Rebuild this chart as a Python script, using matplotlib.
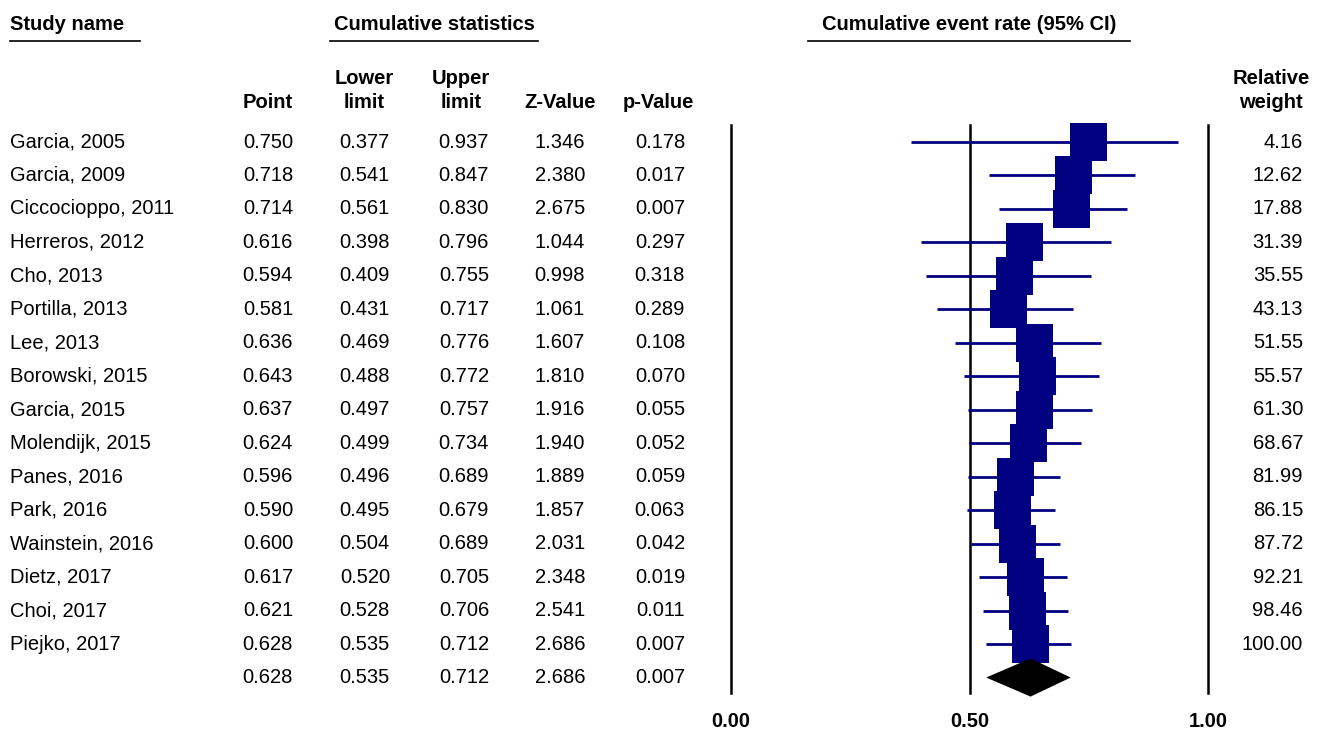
import matplotlib
matplotlib.use("Agg")
import matplotlib.pyplot as plt
from matplotlib.patches import Rectangle, Polygon
from matplotlib.lines import Line2D
import matplotlib.transforms as mtransforms

# cumulative meta-analysis table
studies = ["Garcia, 2005", "Garcia, 2009", "Ciccocioppo, 2011", "Herreros, 2012", "Cho, 2013",
           "Portilla, 2013", "Lee, 2013", "Borowski, 2015", "Garcia, 2015", "Molendijk, 2015",
           "Panes, 2016", "Park, 2016", "Wainstein, 2016", "Dietz, 2017", "Choi, 2017", "Piejko, 2017"]
point = [0.750, 0.718, 0.714, 0.616, 0.594, 0.581, 0.636, 0.643, 0.637, 0.624,
         0.596, 0.590, 0.600, 0.617, 0.621, 0.628]
lower = [0.377, 0.541, 0.561, 0.398, 0.409, 0.431, 0.469, 0.488, 0.497, 0.499,
         0.496, 0.495, 0.504, 0.520, 0.528, 0.535]
upper = [0.937, 0.847, 0.830, 0.796, 0.755, 0.717, 0.776, 0.772, 0.757, 0.734,
         0.689, 0.679, 0.689, 0.705, 0.706, 0.712]
zval = [1.346, 2.380, 2.675, 1.044, 0.998, 1.061, 1.607, 1.810, 1.916, 1.940,
        1.889, 1.857, 2.031, 2.348, 2.541, 2.686]
pval = [0.178, 0.017, 0.007, 0.297, 0.318, 0.289, 0.108, 0.070, 0.055, 0.052,
        0.059, 0.063, 0.042, 0.019, 0.011, 0.007]
weight = [4.16, 12.62, 17.88, 31.39, 35.55, 43.13, 51.55, 55.57, 61.30, 68.67,
          81.99, 86.15, 87.72, 92.21, 98.46, 100.00]
summary = {"point": 0.628, "lower": 0.535, "upper": 0.712, "z": 2.686, "p": 0.007}
xticks = [0.0, 0.5, 1.0]

W, H = 1324, 731
NAVY = "#000080"
FS = 14.5
plt.rcParams["font.family"] = ["Liberation Sans", "DejaVu Sans"]

fig = plt.figure(figsize=(W / 100, H / 100), dpi=100)
fx = lambda px: px / W
fy = lambda py: 1 - py / H

# forest axes: 0.00 at x=731px, 1.00 at 1208px; rows 33.47px apart starting at 142px
top, bot, rowh = 125, 693, 33.47
ax = fig.add_axes([fx(731), fy(bot), (1208 - 731) / W, (bot - top) / H])
ax.set_xlim(0, 1)
ax.set_ylim((bot - 142) / rowh, -(142 - top) / rowh)
for s in ax.spines.values():
    s.set_visible(False)
ax.set_yticks([])
ax.set_xticks(xticks)
ax.set_xticklabels([f"{t:.2f}" for t in xticks], fontweight="bold", fontsize=FS)
ax.tick_params(axis="x", length=0, pad=14)
for t in xticks:
    ax.axvline(t, color="black", lw=1.8, zorder=1, clip_on=False)

n = len(studies)
sq_w = 37 / 477          # square width in data units
sq_h = 38 / rowh         # square height in row units
for i in range(n):
    ax.plot([lower[i], upper[i]], [i, i], color=NAVY, lw=2, zorder=2, solid_capstyle="butt")
    ax.add_patch(Rectangle((point[i] - sq_w / 2, i - sq_h / 2), sq_w, sq_h,
                           facecolor=NAVY, edgecolor="none", zorder=3, clip_on=False))
dh = 0.57
ax.add_patch(Polygon([(summary["lower"], n), (summary["point"], n - dh),
                      (summary["upper"], n), (summary["point"], n + dh)],
                     closed=True, facecolor="black", edgecolor="none", zorder=3, clip_on=False))

# table text: x in figure fraction, y in row units
tr = mtransforms.blended_transform_factory(fig.transFigure, ax.transData)
cols = [(293, point, "{:.3f}"), (390, lower, "{:.3f}"), (489, upper, "{:.3f}"),
        (585, zval, "{:.3f}"), (685, pval, "{:.3f}")]
for i in range(n):
    fig.text(fx(10), i, studies[i], transform=tr, ha="left", va="center", fontsize=FS)
    for xr, vals, f in cols:
        fig.text(fx(xr), i, f.format(vals[i]), transform=tr, ha="right", va="center", fontsize=FS)
    fig.text(fx(1303), i, f"{weight[i]:.2f}", transform=tr, ha="right", va="center", fontsize=FS)
for xr, key in zip([293, 390, 489, 585, 685], ["point", "lower", "upper", "z", "p"]):
    fig.text(fx(xr), n, f"{summary[key]:.3f}", transform=tr, ha="right", va="center", fontsize=FS)

# headers
bold = dict(fontweight="bold", fontsize=FS, va="center")
fig.text(fx(10), fy(24), "Study name", ha="left", **bold)
fig.text(fx(434), fy(24), "Cumulative statistics", ha="center", **bold)
fig.text(fx(969), fy(24), "Cumulative event rate (95% CI)", ha="center", **bold)
for x0, x1 in [(10, 140), (330, 538), (808, 1130)]:
    fig.add_artist(Line2D([fx(x0), fx(x1)], [fy(41), fy(41)], color="black", lw=1.2))

fig.text(fx(293), fy(103), "Point", ha="right", **bold)
fig.text(fx(364), fy(78), "Lower", ha="center", **bold)
fig.text(fx(364), fy(103), "limit", ha="center", **bold)
fig.text(fx(461), fy(78), "Upper", ha="center", **bold)
fig.text(fx(461), fy(103), "limit", ha="center", **bold)
fig.text(fx(560), fy(103), "Z-Value", ha="center", **bold)
fig.text(fx(658), fy(103), "p-Value", ha="center", **bold)
fig.text(fx(1271), fy(78), "Relative", ha="center", **bold)
fig.text(fx(1271), fy(103), "weight", ha="center", **bold)

fig.savefig("out.png", dpi=100)
